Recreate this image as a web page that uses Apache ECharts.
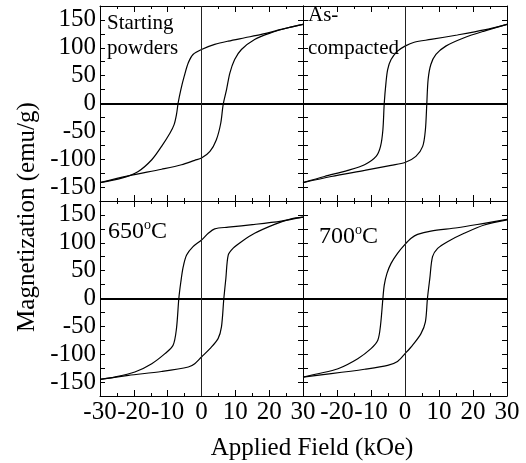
<!DOCTYPE html>
<html>
<head>
<meta charset="utf-8">
<script src="https://cdn.jsdelivr.net/npm/echarts@6/dist/echarts.min.js"></script>
<style>
  html, body { margin: 0; padding: 0; background: #fff; }
  #chart { width: 526px; height: 463px; }
</style>
</head>
<body>
<div id="chart"></div>
<script>
// Hysteresis loops, M (emu/g) vs applied field H (kOe), as [H, M] pairs.
// Each loop: descending branch (+30 -> -30) and ascending branch (-30 -> +30).

const startingDown = [[30,142],[23.6,133],[17.7,124],[12.8,118],[7.9,112],[3.9,106],[0,97],[-2.5,88],[-3.9,73],[-5.1,49],[-6.1,25],[-6.9,1],[-7.4,-20],[-8.1,-38],[-9.3,-53],[-11.8,-77],[-14.7,-101],[-18.7,-122],[-23.6,-134],[-30,-142]];
const startingUp = [[-30,-142],[-21.6,-130],[-11.8,-118],[-5.9,-110],[-2,-102],[0,-98],[2.5,-86],[4.4,-65],[5.7,-35],[6.4,-2],[7.4,25],[8.4,55],[9.8,79],[11.8,97],[15.7,115],[20.6,127],[25.6,136],[30,142]];

const compactedDown = [[30,142],[23.3,132],[15.4,123],[7.6,115],[2.7,110],[0,103],[-2.2,94],[-4.1,79],[-5.1,61],[-5.6,37],[-6.1,1],[-6.5,-47],[-7.2,-77],[-8.5,-95],[-11.9,-110],[-16.8,-120],[-23.7,-131],[-30,-142]];
const compactedUp = [[-30,-142],[-21.7,-131],[-11.9,-120],[-4.1,-111],[0,-106],[3.2,-95],[5.2,-77],[6.0,-47],[6.4,-2],[6.8,43],[7.6,70],[9.1,88],[12,103],[17.4,118],[23.3,130],[30,142]];

const t650Down = [[30,146],[23.6,139],[15.7,133],[7.9,128],[3.9,125],[2,117],[0,105],[-2.5,93],[-4.4,78],[-5.4,57],[-6.1,30],[-6.7,0],[-7.4,-54],[-8.4,-84],[-10.8,-99],[-14.7,-117],[-19.7,-132],[-25.6,-141],[-30,-145]];
const t650Up = [[-30,-145],[-21.6,-138],[-11.8,-131],[-3.9,-123],[-2,-117],[0,-105],[2.5,-90],[4.9,-72],[5.9,-51],[6.6,0],[7.2,36],[7.9,78],[9.3,90],[11.8,102],[15.7,117],[21.6,133],[26.5,143],[30,146]];

const t700Down = [[30,142],[23.3,135],[15.4,127],[7.6,121],[3.7,115],[1.8,108],[0,97],[-2.2,81],[-4.1,63],[-5.3,45],[-6.1,24],[-6.5,0],[-7.2,-48],[-8,-75],[-10,-90],[-13.9,-108],[-19.7,-126],[-25.6,-135],[-30,-141]];
const t700Up = [[-30,-141],[-21.7,-135],[-11.9,-127],[-5.1,-120],[-2.2,-113],[0,-99],[2.2,-84],[4.7,-63],[6,-42],[6.6,0],[7.3,36],[8.1,75],[9.6,90],[12.5,102],[17.4,117],[23.3,132],[30,141]];

const fieldRange = [-30, 30];
const fieldStep = 10;
const magRange = [-175, 175];
const magStep = 25;
const magLabelStep = 50;
const magLabelMax = 150;

const xTitle = 'Applied Field (kOe)';
const yTitle = 'Magnetization (emu/g)';

const FONT = "'Liberation Serif', 'Times New Roman', serif";

const panels = [
  { down: startingDown, up: startingUp, box: { left: 100, top: 6, width: 203, height: 195 }, xLabels: false, yLabels: true, hideFirstX: false },
  { down: compactedDown, up: compactedUp, box: { left: 303, top: 6, width: 204, height: 195 }, xLabels: false, yLabels: false, hideFirstX: true },
  { down: t650Down, up: t650Up, box: { left: 100, top: 201, width: 203, height: 195 }, xLabels: true, yLabels: true, hideFirstX: false },
  { down: t700Down, up: t700Up, box: { left: 303, top: 201, width: 204, height: 195 }, xLabels: true, yLabels: false, hideFirstX: true }
];

const axisLine = { show: true, onZero: false, lineStyle: { color: '#000', width: 1 } };
const labelFont = { fontFamily: FONT, fontSize: 25, color: '#000' };

const grid = [], xAxis = [], yAxis = [], series = [];

panels.forEach((p, i) => {
  grid.push(Object.assign({ show: false, containLabel: false, outerBoundsMode: 'none' }, p.box));

  ['bottom', 'top'].forEach(pos => {
    const withLabels = pos === 'bottom' && p.xLabels;
    xAxis.push({
      type: 'value', gridIndex: i, position: pos,
      min: fieldRange[0], max: fieldRange[1], interval: fieldStep,
      axisLine,
      axisTick: { show: true, inside: true, length: 6, lineStyle: { color: '#000' } },
      minorTick: { show: true, splitNumber: 2, length: 3, lineStyle: { color: '#000' } },
      splitLine: { show: false },
      axisLabel: Object.assign({
        show: withLabels, margin: 4, showMinLabel: true, showMaxLabel: true, hideOverlap: false,
        formatter: v => (p.hideFirstX && v === fieldRange[0]) ? '' : String(v)
      }, labelFont)
    });
  });

  ['left', 'right'].forEach(pos => {
    const withLabels = pos === 'left' && p.yLabels;
    yAxis.push({
      type: 'value', gridIndex: i, position: pos,
      min: magRange[0], max: magRange[1], interval: magStep,
      axisLine,
      axisTick: { show: true, inside: true, length: 5, lineStyle: { color: '#000' } },
      splitLine: { show: false },
      axisLabel: Object.assign({
        show: withLabels, margin: 4, showMinLabel: true, showMaxLabel: true, hideOverlap: false,
        formatter: v => (v % magLabelStep === 0 && Math.abs(v) <= magLabelMax) ? String(v) : ''
      }, labelFont)
    });
  });

  const common = {
    type: 'line', xAxisIndex: 2 * i, yAxisIndex: 2 * i,
    showSymbol: false, symbol: 'none', smooth: 0.3,
    lineStyle: { color: '#000', width: 1.2 },
    animation: false, silent: true
  };
  series.push(Object.assign({}, common, {
    data: p.down,
    markLine: {
      silent: true, symbol: ['none', 'none'], label: { show: false }, animation: false,
      data: [
        { yAxis: 0, lineStyle: { color: '#000', width: 2, type: 'solid' } },
        { xAxis: 0, lineStyle: { color: '#222', width: 1, type: 'solid' } }
      ]
    }
  }));
  series.push(Object.assign({}, common, { data: p.up }));
});

function sup(x, y, main, unit) {
  return {
    type: 'text', left: x, top: y, silent: true,
    style: {
      text: '{a|' + main + '}{s|o}{a|' + unit + '}',
      rich: {
        a: { fontFamily: FONT, fontSize: 24, fill: '#000', lineHeight: 26, verticalAlign: 'bottom' },
        s: { fontFamily: FONT, fontSize: 14, fill: '#000', lineHeight: 26, verticalAlign: 'top' }
      }
    }
  };
}

function label(x, y, text) {
  return {
    type: 'text', x: x, y: y, silent: true,
    style: { text: text, fontFamily: FONT, fontSize: 21, fill: '#000', align: 'left', verticalAlign: 'middle' }
  };
}

const graphic = [
  label(107, 23, 'Starting'),
  label(107, 48, 'powders'),
  label(308, 15, 'As-'),
  label(308, 48, 'compacted'),
  sup(108, 218, '650', 'C'),
  sup(319, 223, '700', 'C'),
  {
    type: 'text', x: 312, y: 448, silent: true,
    style: { text: xTitle, fontFamily: FONT, fontSize: 25, fill: '#000', align: 'center', verticalAlign: 'middle' }
  },
  {
    type: 'text', x: 27, y: 217, rotation: Math.PI / 2, silent: true,
    style: { text: yTitle, fontFamily: FONT, fontSize: 25, fill: '#000', align: 'center', verticalAlign: 'middle' }
  }
];

const chart = echarts.init(document.getElementById('chart'), null, { renderer: 'canvas' });
chart.setOption({
  backgroundColor: '#fff',
  animation: false,
  grid, xAxis, yAxis, series, graphic
});
</script>
</body>
</html>
